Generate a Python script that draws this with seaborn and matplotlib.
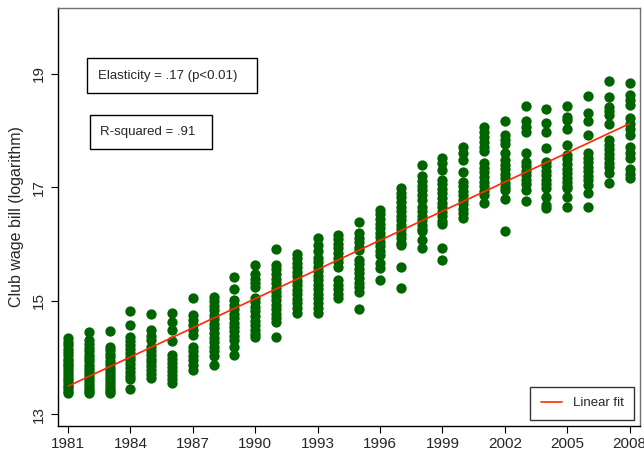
import numpy as np
import pandas as pd
import matplotlib
matplotlib.use("Agg")
import matplotlib.pyplot as plt
import seaborn as sns
from matplotlib.patches import Rectangle

# ---- data (log club wage bill per season) ----
years = list(range(1981, 2009))
w1981 = [14.34, 14.27, 14.21, 14.15, 14.10, 14.04, 13.98, 13.93, 13.88, 13.84, 13.79, 13.74, 13.69, 13.64, 13.60, 13.55, 13.50, 13.46, 13.41, 13.37]
w1982 = [14.45, 14.30, 14.24, 14.17, 14.11, 14.05, 13.99, 13.93, 13.87, 13.82, 13.76, 13.71, 13.65, 13.60, 13.55, 13.50, 13.45, 13.40, 13.37]
w1983 = [14.46, 14.19, 14.13, 14.06, 14.00, 13.94, 13.88, 13.82, 13.76, 13.71, 13.66, 13.60, 13.55, 13.50, 13.45, 13.41, 13.37]
w1984 = [14.82, 14.57, 14.36, 14.29, 14.22, 14.15, 14.08, 14.01, 13.95, 13.88, 13.81, 13.75, 13.68, 13.62, 13.45]
w1985 = [14.76, 14.48, 14.38, 14.30, 14.19, 14.12, 14.05, 13.98, 13.91, 13.84, 13.77, 13.70, 13.63]
w1986 = [14.79, 14.63, 14.48, 14.28, 14.04, 13.97, 13.90, 13.83, 13.76, 13.69, 13.62, 13.55]
w1987 = [15.04, 14.75, 14.66, 14.57, 14.48, 14.39, 14.19, 14.11, 14.03, 13.95, 13.87, 13.78]
w1988 = [15.07, 14.99, 14.91, 14.83, 14.75, 14.67, 14.59, 14.51, 14.43, 14.35, 14.27, 14.19, 14.11, 14.03, 13.86]
w1989 = [15.41, 15.20, 15.01, 14.93, 14.85, 14.77, 14.69, 14.61, 14.53, 14.46, 14.38, 14.31, 14.19, 14.04]
w1990 = [15.62, 15.47, 15.39, 15.31, 15.24, 15.05, 14.97, 14.89, 14.81, 14.73, 14.65, 14.57, 14.49, 14.42, 14.36]
w1991 = [15.91, 15.63, 15.55, 15.47, 15.39, 15.31, 15.23, 15.16, 15.08, 15.01, 14.93, 14.85, 14.77, 14.70, 14.63, 14.36]
w1992 = [15.83, 15.75, 15.67, 15.59, 15.51, 15.43, 15.35, 15.27, 15.19, 15.11, 15.03, 14.95, 14.87, 14.78]
w1993 = [16.10, 15.99, 15.87, 15.76, 15.68, 15.60, 15.52, 15.44, 15.36, 15.28, 15.20, 15.12, 15.04, 14.96, 14.87, 14.78]
w1994 = [16.16, 16.08, 16.00, 15.92, 15.84, 15.76, 15.68, 15.60, 15.36, 15.28, 15.20, 15.12, 15.04]
w1995 = [16.38, 16.19, 16.11, 16.03, 15.95, 15.89, 15.72, 15.64, 15.56, 15.48, 15.40, 15.32, 15.24, 15.16, 14.86]
w1996 = [16.60, 16.52, 16.44, 16.36, 16.28, 16.20, 16.12, 16.04, 15.96, 15.88, 15.80, 15.66, 15.57, 15.36]
w1997 = [16.98, 16.90, 16.82, 16.74, 16.66, 16.58, 16.50, 16.42, 16.34, 16.26, 16.18, 16.10, 16.02, 15.98, 15.60, 15.22]
w1998 = [17.39, 17.19, 17.11, 17.03, 16.95, 16.87, 16.77, 16.66, 16.58, 16.50, 16.42, 16.34, 16.26, 16.22, 16.07, 15.92]
w1999 = [17.51, 17.42, 17.30, 17.13, 17.05, 16.97, 16.89, 16.81, 16.73, 16.65, 16.57, 16.49, 16.41, 16.36, 15.92, 15.72]
w2000 = [17.71, 17.60, 17.48, 17.27, 17.10, 17.02, 16.94, 16.86, 16.78, 16.70, 16.62, 16.54, 16.45]
w2001 = [18.06, 17.97, 17.88, 17.79, 17.71, 17.63, 17.42, 17.34, 17.26, 17.18, 17.10, 17.02, 16.94, 16.86, 16.72]
w2002 = [18.17, 17.92, 17.84, 17.77, 17.61, 17.48, 17.40, 17.32, 17.24, 17.16, 17.08, 17.01, 16.95, 16.79, 16.23]
w2003 = [18.43, 18.16, 18.07, 17.98, 17.61, 17.45, 17.37, 17.29, 17.21, 17.13, 17.05, 16.95, 16.76]
w2004 = [18.38, 18.14, 17.98, 17.70, 17.45, 17.37, 17.29, 17.21, 17.13, 17.05, 16.98, 16.83, 16.69, 16.63]
w2005 = [18.43, 18.24, 18.19, 18.02, 17.74, 17.57, 17.49, 17.41, 17.33, 17.25, 17.17, 17.09, 17.02, 16.98, 16.83, 16.66]
w2006 = [18.61, 18.31, 18.16, 17.92, 17.60, 17.52, 17.44, 17.36, 17.28, 17.20, 17.12, 17.04, 16.89, 16.66]
w2007 = [18.87, 18.59, 18.42, 18.34, 18.27, 18.11, 17.83, 17.75, 17.67, 17.59, 17.51, 17.43, 17.35, 17.25, 17.07]
w2008 = [18.83, 18.63, 18.54, 18.45, 18.22, 18.12, 18.02, 17.92, 17.71, 17.61, 17.51, 17.33, 17.24, 17.16]

wage_by_year = [w1981, w1982, w1983, w1984, w1985, w1986, w1987, w1988, w1989, w1990,
                w1991, w1992, w1993, w1994, w1995, w1996, w1997, w1998, w1999, w2000,
                w2001, w2002, w2003, w2004, w2005, w2006, w2007, w2008]

xticks = [1981, 1984, 1987, 1990, 1993, 1996, 1999, 2002, 2005, 2008]
yticks = [13, 15, 17, 19]
ylabel = "Club wage bill (logarithm)"
note_elasticity = "Elasticity = .17 (p<0.01)"
note_r2 = "R-squared = .91"
legend_label = "Linear fit"

rows = [(yr, v) for yr, vals in zip(years, wage_by_year) for v in vals]
df = pd.DataFrame(rows, columns=["season", "logwage"])

# ---- styling ----
sns.set_style("white")
plt.rcParams['font.family'] = ['Liberation Sans', 'DejaVu Sans']

W, H = 644, 453
fig = plt.figure(figsize=(W / 100, H / 100), dpi=100)
ax = fig.add_axes([58 / W, 27 / H, 582 / W, 418 / H])

sns.scatterplot(data=df, x="season", y="logwage", color="#006400", s=55,
                linewidth=0, ax=ax, legend=False, zorder=2)
n_before = len(ax.get_lines())
sns.regplot(data=df, x="season", y="logwage", scatter=False, ci=None,
            color="#ff2a00", line_kws={"lw": 1.2, "zorder": 3}, ax=ax)
fit_line = ax.get_lines()[n_before]

ax.set_xlim(1980.52, 2008.5)
ax.set_ylim(12.79, 20.16)
ax.set_xticks(xticks)
ax.set_xticklabels([str(t) for t in xticks], fontsize=11)
ax.set_yticks(yticks)
ax.set_yticklabels([str(t) for t in yticks], rotation=90, va='center', fontsize=11)
ax.set_xlabel("")
ax.set_ylabel(ylabel, fontsize=11.5)
ax.yaxis.set_label_coords(-0.058, 0.5)
ax.tick_params(axis='both', direction='out', length=5, width=0.8, color='black',
               bottom=True, left=True, pad=3)
ax.tick_params(axis='y', pad=4)

for side in ['left', 'bottom']:
    ax.spines[side].set_color('black')
    ax.spines[side].set_linewidth(1.0)
for side in ['top', 'right']:
    ax.spines[side].set_color('#707070')
    ax.spines[side].set_linewidth(1.0)

# annotation boxes (figure pixel coordinates)
def box(x0, y0, x1, y1):
    fig.add_artist(Rectangle((x0 / W, 1 - y1 / H), (x1 - x0) / W, (y1 - y0) / H,
                             transform=fig.transFigure, fill=False, ec='black', lw=1.0))

box(87, 58, 257, 93)
fig.text(98 / W, 1 - 75.5 / H, note_elasticity, ha='left', va='center', fontsize=9.5)
box(90, 115, 212, 149)
fig.text(100 / W, 1 - 132 / H, note_r2, ha='left', va='center', fontsize=9.5)

leg = ax.legend(handles=[fit_line], labels=[legend_label], loc='lower right',
                bbox_to_anchor=(634 / W, 1 - 420 / H),
                bbox_transform=fig.transFigure, frameon=True, fancybox=False,
                edgecolor='black', fontsize=9.5, handlelength=1.6, borderpad=0.8,
                handletextpad=0.8, borderaxespad=0)
leg.get_frame().set_linewidth(1.0)

fig.savefig("out.png", dpi=100)
